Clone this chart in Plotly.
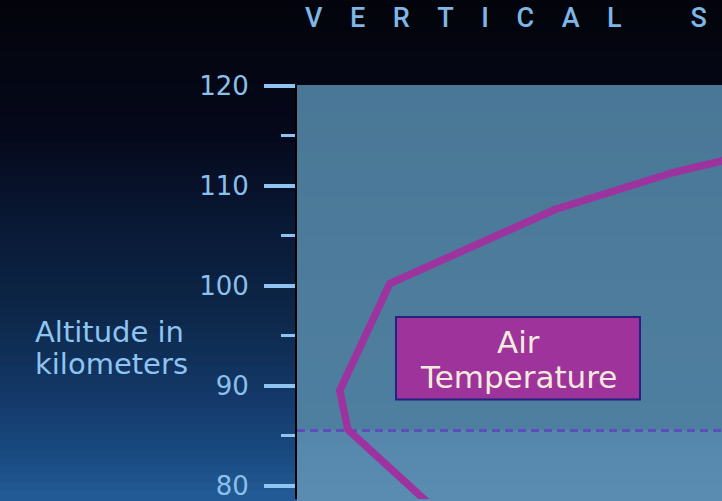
import plotly.graph_objects as go

# ---- data ----
altitude_km = [78.0, 85.6, 89.5, 100.2, 107.6, 111.3, 113.0]
air_temp_c = [-66.5, -87.3, -89.3, -76.8, -35.5, -6.0, 12.0]
mesopause_km = 85.5
tick_values = [80, 90, 100, 110, 120]
tick_labels = ["80", "90", "100", "110", "120"]
title_text = "V\u2003E\u2003R\u2003T\u2003I\u2003C\u2003A\u2003L\u2003\u2003\u2002S"
ylabel_lines = ["Altitude in", "kilometers"]
box_lines = ["Air", "Temperature"]

# ---- layout geometry ----
W, H = 722, 501
ML, MR, MT, MB = 297, 0, 85, 0
PW, PH = W - ML - MR, H - MT - MB


def paper(x, y):
    return (x - ML) / PW, (H - MB - y) / PH


def hexmix(c1, c2, t):
    a = [int(c1[i:i + 2], 16) for i in (1, 3, 5)]
    b = [int(c2[i:i + 2], 16) for i in (1, 3, 5)]
    return "#" + "".join(f"{round(a[k] + (b[k] - a[k]) * t):02x}" for k in range(3))


def gradient(stops, y_from, y_to, n):
    out = []
    step = (y_to - y_from) / n
    for i in range(n):
        ym = y_from + (i + 0.5) * step
        col = stops[-1][1]
        for j in range(len(stops) - 1):
            if stops[j][0] <= ym <= stops[j + 1][0]:
                t = (ym - stops[j][0]) / (stops[j + 1][0] - stops[j][0])
                col = hexmix(stops[j][1], stops[j + 1][1], t)
                break
        out.append((y_from + i * step, col))
    return out


shapes = []
# page background gradient: each strip runs to the bottom, drawn top-down (no seams)
bg_stops = [(0, "#03040a"), (130, "#05081a"), (230, "#091a36"),
            (310, "#0d2647"), (400, "#13396a"), (460, "#1a4b82"), (501, "#225c96")]
for y0, col in gradient(bg_stops, 0, H, 60):
    x0p, y0p = paper(-2, y0)
    x1p, _ = paper(W + 2, H)
    shapes.append(dict(type="rect", xref="paper", yref="paper", x0=x0p, x1=x1p,
                       y0=-0.05, y1=y0p, fillcolor=col, line_width=0, layer="below"))

# plot-area panel
plot_stops = [(85, "#4a7796"), (432, "#4f7fa0"), (434, "#5686ab"), (501, "#5b8db3")]
for y0, col in gradient(plot_stops, 85, H, 30):
    _, y0p = paper(ML, y0)
    shapes.append(dict(type="rect", xref="paper", yref="paper", x0=0, x1=1.02,
                       y0=-0.05, y1=min(y0p, 1), fillcolor=col, line_width=0, layer="below"))

shapes.append(dict(type="line", xref="paper", yref="y", x0=0, x1=1.02,
                   y0=mesopause_km, y1=mesopause_km,
                   line=dict(color="#5b4dba", width=3, dash="8px,5px"), layer="below"))

# label box
bx0, by0 = paper(396, 401)
bx1, by1 = paper(640, 318)
shapes.append(dict(type="rect", xref="paper", yref="paper", x0=bx0, x1=bx1,
                   y0=by0, y1=by1, fillcolor="#9d339b",
                   line=dict(color="#23237f", width=2), layer="above"))

fig = go.Figure()
fig.add_trace(go.Scatter(x=air_temp_c, y=altitude_km, mode="lines",
                         line=dict(color="#9d339f", width=7.5), hoverinfo="skip",
                         showlegend=False))

annotations = []
tx, ty = paper(303, 18)
annotations.append(dict(text=title_text, xref="paper", yref="paper", x=tx, y=ty,
                        xanchor="left", yanchor="middle", showarrow=False,
                        font=dict(family="Roboto, sans-serif", weight=500,
                                  size=27, color="#7fb6e8")))
for i, line in enumerate(ylabel_lines):
    lx, ly = paper(33, 333 + i * 32)
    annotations.append(dict(text=line, xref="paper", yref="paper", x=lx, y=ly,
                            xanchor="left", yanchor="middle", showarrow=False,
                            height=30,
                            font=dict(family="DejaVu Sans", size=29, color="#8ec4f0")))
for i, line in enumerate(box_lines):
    lx, ly = paper(518, 343 + i * 35)
    annotations.append(dict(text=line, xref="paper", yref="paper", x=lx, y=ly,
                            xanchor="center", yanchor="middle", showarrow=False,
                            height=34,
                            font=dict(family="DejaVu Sans", size=31, color="#f4ebdd")))

fig.update_layout(
    width=W, height=H,
    margin=dict(l=ML, r=MR, t=MT, b=MB, pad=0),
    paper_bgcolor="#05081a",
    plot_bgcolor="#4c7a9b",
    shapes=shapes,
    annotations=annotations,
    showlegend=False,
    xaxis=dict(visible=False, range=[-100, 6.25], fixedrange=True),
    yaxis=dict(range=[78.65, 120.05], tickvals=tick_values, ticktext=tick_labels,
               ticks="outside", ticklen=31, tickwidth=4, tickcolor="#8fc4f2",
               ticklabelstandoff=10, ticklabeloverflow="allow",
               showline=True, linecolor="#000000", linewidth=2,
               showgrid=False, zeroline=False, fixedrange=True,
               tickfont=dict(family="DejaVu Sans", size=26, color="#8cc0ec"),
               minor=dict(dtick=5, tick0=0, ticks="outside", ticklen=14,
                          tickwidth=3, tickcolor="#8fc4f2", showgrid=False)),
)

fig.write_html("out.html", config={"displayModeBar": False},
               post_script="document.body.style.margin='0';document.body.style.overflow='hidden';")
